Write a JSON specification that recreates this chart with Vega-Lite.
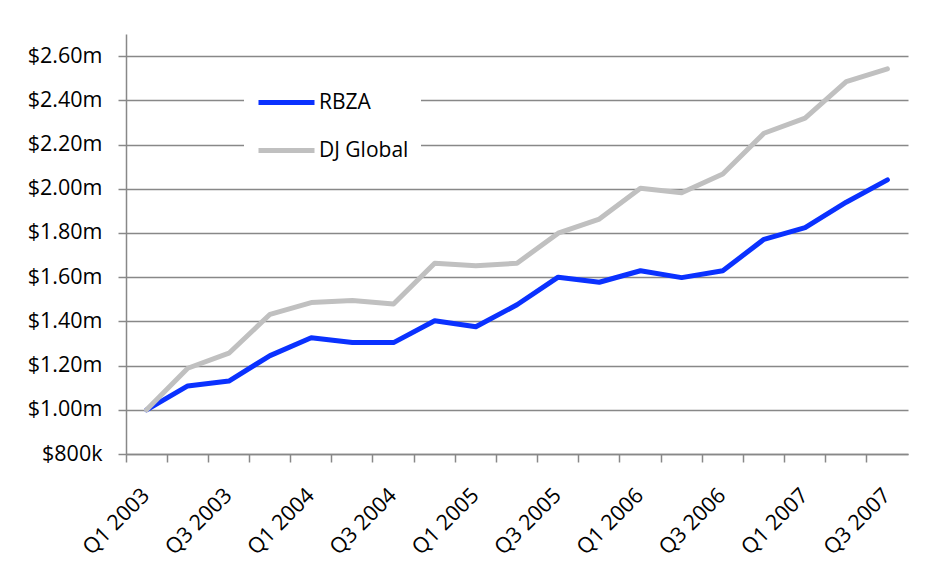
{
  "$schema": "https://vega.github.io/schema/vega-lite/v6.json",
  "autosize": {"type": "none"},
  "width": 782,
  "height": 420,
  "padding": {"left": 126, "top": 34, "right": 33, "bottom": 124},
  "background": "white",
  "config": {
    "view": {"stroke": null},
    "font": "Open Sans",
    "axis": {"labelFont": "Open Sans", "labelFontSize": 21.5, "labelColor": "#000000"},
    "legend": {"labelFont": "Open Sans", "labelFontSize": 21, "labelColor": "#000000"}
  },
  "data": {
    "values": [
      {"q": "Q1 2003", "s": "RBZA", "v": 1.00},
      {"q": "Q2 2003", "s": "RBZA", "v": 1.108},
      {"q": "Q3 2003", "s": "RBZA", "v": 1.13},
      {"q": "Q4 2003", "s": "RBZA", "v": 1.245},
      {"q": "Q1 2004", "s": "RBZA", "v": 1.326},
      {"q": "Q2 2004", "s": "RBZA", "v": 1.304},
      {"q": "Q3 2004", "s": "RBZA", "v": 1.304},
      {"q": "Q4 2004", "s": "RBZA", "v": 1.403},
      {"q": "Q1 2005", "s": "RBZA", "v": 1.376},
      {"q": "Q2 2005", "s": "RBZA", "v": 1.475},
      {"q": "Q3 2005", "s": "RBZA", "v": 1.600},
      {"q": "Q4 2005", "s": "RBZA", "v": 1.577},
      {"q": "Q1 2006", "s": "RBZA", "v": 1.629},
      {"q": "Q2 2006", "s": "RBZA", "v": 1.598},
      {"q": "Q3 2006", "s": "RBZA", "v": 1.629},
      {"q": "Q4 2006", "s": "RBZA", "v": 1.771},
      {"q": "Q1 2007", "s": "RBZA", "v": 1.824},
      {"q": "Q2 2007", "s": "RBZA", "v": 1.939},
      {"q": "Q3 2007", "s": "RBZA", "v": 2.04},
      {"q": "Q1 2003", "s": "DJ Global", "v": 1.00},
      {"q": "Q2 2003", "s": "DJ Global", "v": 1.188},
      {"q": "Q3 2003", "s": "DJ Global", "v": 1.256},
      {"q": "Q4 2003", "s": "DJ Global", "v": 1.432},
      {"q": "Q1 2004", "s": "DJ Global", "v": 1.485},
      {"q": "Q2 2004", "s": "DJ Global", "v": 1.494},
      {"q": "Q3 2004", "s": "DJ Global", "v": 1.479},
      {"q": "Q4 2004", "s": "DJ Global", "v": 1.663},
      {"q": "Q1 2005", "s": "DJ Global", "v": 1.652},
      {"q": "Q2 2005", "s": "DJ Global", "v": 1.663},
      {"q": "Q3 2005", "s": "DJ Global", "v": 1.799},
      {"q": "Q4 2005", "s": "DJ Global", "v": 1.863},
      {"q": "Q1 2006", "s": "DJ Global", "v": 2.002},
      {"q": "Q2 2006", "s": "DJ Global", "v": 1.982},
      {"q": "Q3 2006", "s": "DJ Global", "v": 2.067},
      {"q": "Q4 2006", "s": "DJ Global", "v": 2.251},
      {"q": "Q1 2007", "s": "DJ Global", "v": 2.319},
      {"q": "Q2 2007", "s": "DJ Global", "v": 2.485},
      {"q": "Q3 2007", "s": "DJ Global", "v": 2.542}
    ]
  },
  "encoding": {
    "y": {
      "field": "v",
      "type": "quantitative",
      "scale": {"domain": [0.8, 2.7], "nice": false, "zero": false},
      "axis": {
        "title": null,
        "values": [0.8, 1.0, 1.2, 1.4, 1.6, 1.8, 2.0, 2.2, 2.4, 2.6],
        "labelExpr": "datum.value < 0.99 ? '$' + format(datum.value * 1000, 'd') + 'k' : '$' + format(datum.value, '.2f') + 'm'",
        "tickSize": 8,
        "tickColor": "#888888",
        "tickWidth": 1.5,
        "domainColor": "#888888",
        "domainWidth": 1.5,
        "grid": true,
        "gridColor": "#888888",
        "gridWidth": 1.5,
        "labelPadding": 16
      }
    }
  },
  "layer": [
    {
      "mark": {"type": "line", "strokeOpacity": 0},
      "encoding": {
        "x": {
          "field": "q",
          "type": "ordinal",
          "sort": null,
          "scale": {"type": "band", "paddingInner": 0, "paddingOuter": 0},
          "axis": {
            "title": null,
            "orient": "bottom",
            "bandPosition": 0,
            "labels": false,
            "tickSize": 8,
            "tickColor": "#888888",
            "tickWidth": 1.5,
            "domainColor": "#888888",
            "domainWidth": 1.5,
            "grid": false
          }
        },
        "detail": {"field": "s", "type": "nominal"}
      }
    },
    {
      "mark": {"type": "line", "strokeWidth": 5, "strokeCap": "round", "strokeJoin": "round"},
      "encoding": {
        "x": {
          "field": "q",
          "type": "ordinal",
          "sort": null,
          "axis": {
            "title": null,
            "orient": "bottom",
            "ticks": false,
            "tickSize": 0,
            "domain": false,
            "grid": false,
            "labelAngle": -45,
            "labelAlign": "right",
            "labelBaseline": "middle",
            "labelPadding": 38,
            "labelOverlap": false,
            "labelExpr": "(indexof(datum.value, 'Q1') == 0 || indexof(datum.value, 'Q3') == 0) ? datum.value : ''"
          }
        },
        "color": {
          "field": "s",
          "type": "nominal",
          "sort": ["RBZA", "DJ Global"],
          "scale": {"domain": ["RBZA", "DJ Global"], "range": ["#0a31ff", "#c0c0c0"]},
          "legend": {
            "title": null,
            "orient": "none",
            "legendX": 118,
            "legendY": 26,
            "fillColor": "white",
            "padding": 12,
            "symbolType": "stroke",
            "symbolSize": 3136,
            "symbolStrokeWidth": 5,
            "labelOffset": 2,
            "rowPadding": 7
          }
        }
      }
    }
  ],
  "resolve": {"axis": {"x": "independent"}}
}
